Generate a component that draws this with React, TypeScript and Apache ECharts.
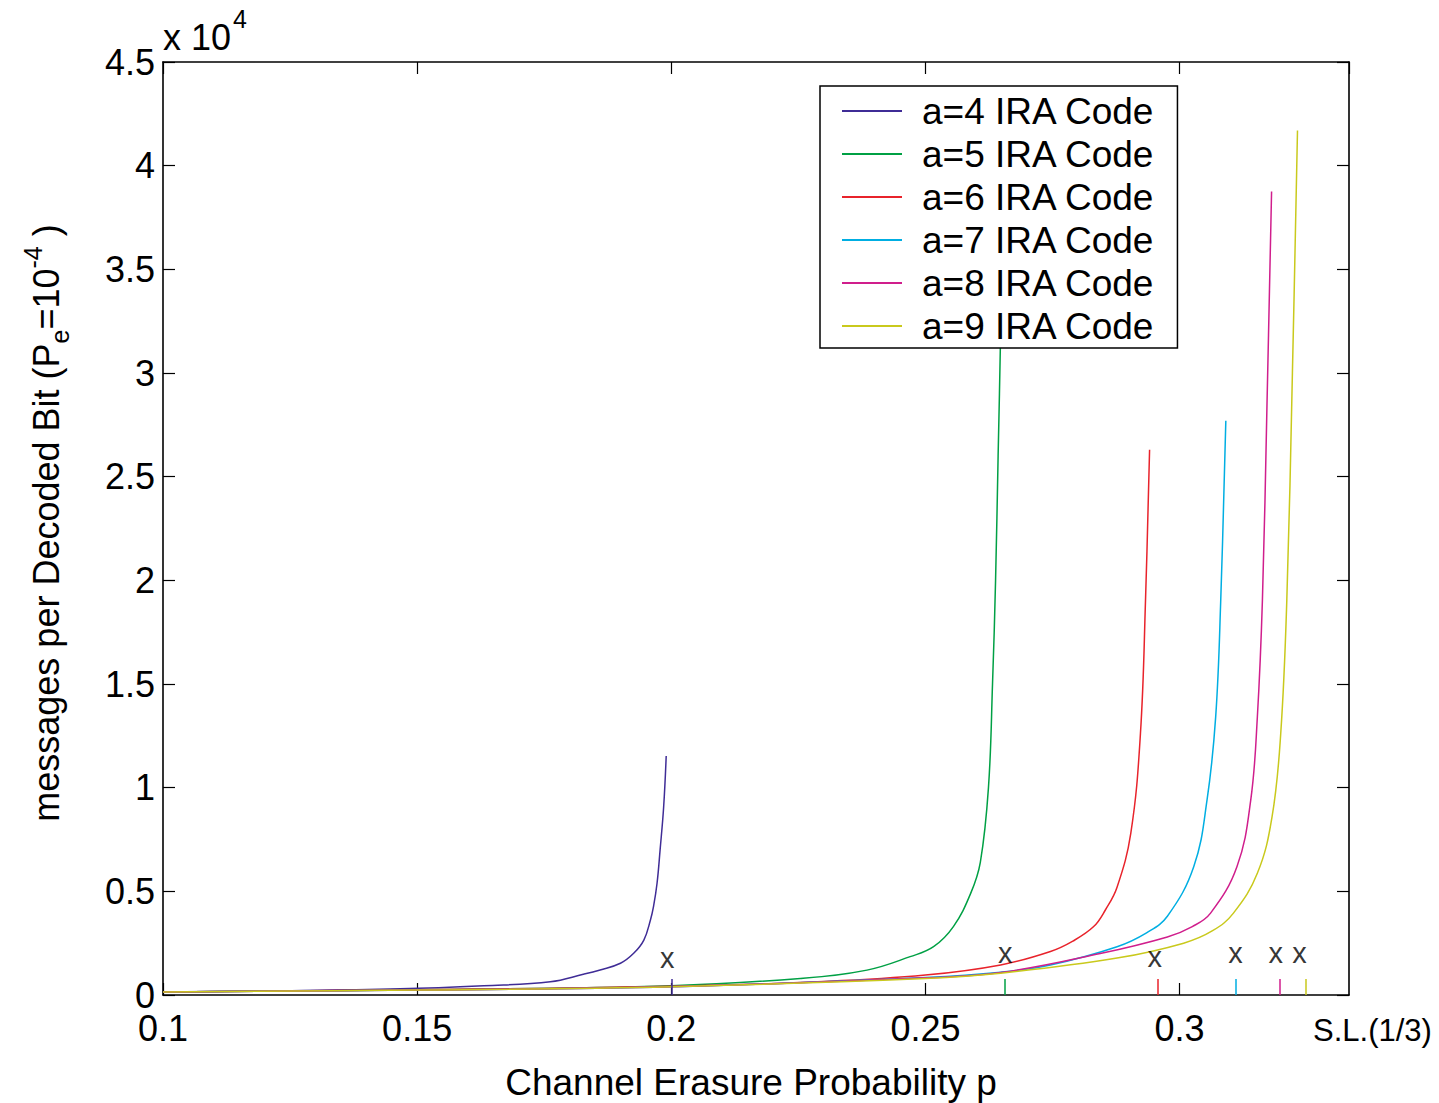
import React, { useEffect, useRef } from "react";
import * as echarts from "echarts";

const FONT = "'Liberation Sans', Arial, Helvetica, sans-serif";

const seriesNames = [
  "a=4 IRA Code",
  "a=5 IRA Code",
  "a=6 IRA Code",
  "a=7 IRA Code",
  "a=8 IRA Code",
  "a=9 IRA Code",
];
const seriesColors = ["#3f2c96", "#00a044", "#e8232b", "#00aee2", "#d01e8c", "#c9c91c"];

// a=4
const a4X = [0.1, 0.12, 0.1467, 0.1631, 0.1762, 0.1827, 0.186, 0.19, 0.1926, 0.1946, 0.1959, 0.1965, 0.1972, 0.1978, 0.1985, 0.199];
const a4Y = [0.015, 0.02, 0.03, 0.045, 0.064, 0.1, 0.121, 0.153, 0.201, 0.265, 0.362, 0.426, 0.539, 0.7, 0.908, 1.153];
// a=5
const a5X = [0.1, 0.15, 0.2, 0.2254, 0.2385, 0.247, 0.2516, 0.2555, 0.2589, 0.2608, 0.2624, 0.2632, 0.2638, 0.2643, 0.2648, 0.2652];
const a5Y = [0.015, 0.025, 0.045, 0.08, 0.12, 0.185, 0.233, 0.33, 0.49, 0.64, 1.0, 1.5, 2.0, 2.6, 3.2, 3.9];
// a=6
const a6X = [0.1, 0.15, 0.2, 0.23, 0.25, 0.2648, 0.2746, 0.279, 0.2831, 0.2854, 0.2877, 0.2904, 0.2923, 0.2933, 0.2941];
const a6Y = [0.015, 0.025, 0.042, 0.065, 0.096, 0.145, 0.21, 0.26, 0.33, 0.41, 0.52, 0.78, 1.26, 1.905, 2.63];
// a=7
const a7X = [0.1, 0.15, 0.2, 0.25, 0.2648, 0.2746, 0.2877, 0.2935, 0.2976, 0.3028, 0.3054, 0.3071, 0.3081, 0.3091];
const a7Y = [0.015, 0.024, 0.04, 0.085, 0.11, 0.145, 0.233, 0.3, 0.38, 0.62, 0.94, 1.34, 1.905, 2.77];
// a=8
const a8X = [0.1, 0.15, 0.2, 0.25, 0.2648, 0.2844, 0.2976, 0.3025, 0.3061, 0.3113, 0.314, 0.3153, 0.3163, 0.3172, 0.3181];
const a8Y = [0.015, 0.024, 0.04, 0.083, 0.108, 0.2, 0.28, 0.33, 0.395, 0.62, 0.94, 1.34, 1.905, 2.85, 3.875];
// a=9
const a9X = [0.1, 0.15, 0.2, 0.25, 0.2648, 0.2877, 0.3008, 0.3065, 0.3106, 0.3153, 0.3182, 0.3199, 0.3211, 0.3222, 0.3232];
const a9Y = [0.015, 0.024, 0.04, 0.08, 0.105, 0.178, 0.25, 0.31, 0.395, 0.587, 0.86, 1.26, 1.905, 3.0, 4.17];

const seriesX = [a4X, a5X, a6X, a7X, a8X, a9X];
const seriesY = [a4Y, a5Y, a6Y, a7Y, a8Y, a9Y];

// thresholds (short colored ticks at the bottom) and "x" marks
const thresholds = [0.2, 0.2657, 0.2957, 0.311, 0.3197, 0.3248];
const thresholdTickHeight = 0.077;
const markLabelX = [0.1992, 0.2657, 0.2951, 0.311, 0.3189, 0.3236];
const markLabelY = [0.178, 0.203, 0.183, 0.203, 0.203, 0.203];

const xMin = 0.1;
const xMax = 1 / 3;
const xInterval = 0.05;
const yMin = 0;
const yMax = 4.5;
const yInterval = 0.5;

function fmt(v: number): string {
  return String(Math.round(v * 100) / 100);
}

export default function App() {
  const ref = useRef<HTMLDivElement>(null);
  useEffect(() => {
    document.body.style.margin = "0";
    if (!ref.current) return;
    const chart = echarts.init(ref.current, undefined, { renderer: "svg" });

    const lineSeries = seriesNames.map((name, i) => ({
      name,
      type: "line",
      data: seriesX[i].map((x, j) => [x, seriesY[i][j]]),
      showSymbol: false,
      symbol: "none",
      smooth: 0.4,
      color: seriesColors[i],
      lineStyle: { color: seriesColors[i], width: 1.5 },
      z: 2,
      markLine: {
        silent: true,
        symbol: ["none", "none"],
        label: { show: false },
        lineStyle: { color: seriesColors[i], width: 1.5, type: "solid" },
        data: [[{ coord: [thresholds[i], 0] }, { coord: [thresholds[i], thresholdTickHeight] }]],
      },
    }));

    const markSeries = {
      name: "marks",
      type: "scatter",
      symbolSize: 1,
      itemStyle: { color: "rgba(0,0,0,0)" },
      data: markLabelX.map((x, i) => [x, markLabelY[i]]),
      label: {
        show: true,
        position: "inside",
        formatter: "x",
        color: "#000",
        fontSize: 29,
        fontFamily: FONT,
      },
      silent: true,
      z: 3,
    };

    const axisCommon = {
      axisLine: { show: true, onZero: false, lineStyle: { color: "#000", width: 1.6 } },
      axisTick: { show: true, inside: true, length: 12, lineStyle: { color: "#000", width: 1.2 } },
      splitLine: { show: false },
    };

    chart.setOption({
      animation: false,
      backgroundColor: "#fff",
      grid: { left: 163, top: 62, right: 90, bottom: 108, containLabel: false },
      xAxis: [
        {
          type: "value",
          position: "bottom",
          min: xMin,
          max: xMax,
          interval: xInterval,
          ...axisCommon,
          axisLabel: {
            show: true,
            showMaxLabel: false,
            formatter: fmt,
            fontSize: 36,
            lineHeight: 30,
            fontFamily: FONT,
            color: "#000",
            margin: 18,
          },
        },
        {
          type: "value",
          position: "top",
          min: xMin,
          max: xMax,
          interval: xInterval,
          ...axisCommon,
          axisLabel: { show: false },
        },
      ],
      yAxis: [
        {
          type: "value",
          position: "left",
          min: yMin,
          max: yMax,
          interval: yInterval,
          ...axisCommon,
          axisLabel: {
            show: true,
            formatter: fmt,
            fontSize: 36,
            lineHeight: 30,
            fontFamily: FONT,
            color: "#000",
            margin: 8,
          },
        },
        {
          type: "value",
          position: "right",
          min: yMin,
          max: yMax,
          interval: yInterval,
          ...axisCommon,
          axisLabel: { show: false },
        },
      ],
      legend: {
        data: seriesNames,
        orient: "vertical",
        left: 820,
        top: 86,
        icon: "rect",
        itemWidth: 60,
        itemHeight: 2,
        itemGap: 5,
        padding: [6, 22, 3, 22],
        backgroundColor: "#fff",
        borderColor: "#000",
        borderWidth: 1.5,
        borderRadius: 0,
        z: 10,
        textStyle: {
          fontSize: 37,
          lineHeight: 38,
          color: "#000",
          fontFamily: FONT,
          padding: [0, 0, 0, 15],
        },
      },
      graphic: [
        {
          type: "text",
          x: 163,
          y: 37,
          style: { text: "x 10", fontSize: 36, fontFamily: FONT, fill: "#000", align: "left", verticalAlign: "middle" },
        },
        {
          type: "text",
          x: 233,
          y: 19,
          style: { text: "4", fontSize: 25, fontFamily: FONT, fill: "#000", align: "left", verticalAlign: "middle" },
        },
        {
          type: "text",
          x: 1313,
          y: 1030,
          style: { text: "S.L.(1/3)", fontSize: 31, fontFamily: FONT, fill: "#000", align: "left", verticalAlign: "middle" },
        },
        {
          type: "text",
          x: 751,
          y: 1082,
          style: {
            text: "Channel Erasure Probability p",
            fontSize: 37,
            fontFamily: FONT,
            fill: "#000",
            align: "center",
            verticalAlign: "middle",
          },
        },
        {
          type: "text",
          x: 46,
          y: 523,
          rotation: Math.PI / 2,
          style: {
            text: "{m|messages per Decoded Bit (P}{s|e}{m|=10}{p|-4}{m| )}",
            align: "center",
            verticalAlign: "middle",
            fill: "#000",
            rich: {
              m: { fontSize: 36, lineHeight: 52, fontFamily: FONT, fill: "#000" },
              s: { fontSize: 25, lineHeight: 25, fontFamily: FONT, fill: "#000", verticalAlign: "bottom" },
              p: { fontSize: 25, lineHeight: 25, fontFamily: FONT, fill: "#000", verticalAlign: "top" },
            },
          },
        },
      ],
      series: [...lineSeries, markSeries],
    });

    return () => {
      chart.dispose();
    };
  }, []);

  return <div ref={ref} style={{ width: 1439, height: 1103 }} />;
}
